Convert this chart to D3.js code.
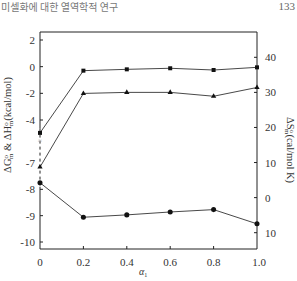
<!DOCTYPE html>
<html>
<head>
<meta charset="utf-8">
<script src="https://cdn.jsdelivr.net/npm/d3@7"></script>
<style>
  body { margin: 0; background: #fff; }
  text { font-family: "Liberation Serif", "DejaVu Serif", serif; fill: #333; }
</style>
</head>
<body>
<div id="wrapper"></div>
<script>
// data
const alpha = [0, 0.2, 0.4, 0.6, 0.8, 1.0]
const dH = [-4.9, -0.3, -0.2, -0.12, -0.25, -0.05]     // squares, left axis
const dS = [8.7, 29.7, 30, 30, 28.9, 31.4]              // triangles, right axis
const dG = [-7.75, -9.06, -8.97, -8.86, -8.77, -9.31]  // circles, left axis

const xTicks = [0, 0.2, 0.4, 0.6, 0.8, 1.0]
const xTickLabels = ["0", "0.2", "0.4", "0.6", "0.8", "1.0"]
const leftTicks = [2, 0, -2, -4, -7, -8, -9, -10]
const leftTickLabels = ["2", "0", "-2", "-4", "-7", "-8", "-9", "-10"]
const rightTicks = [40, 30, 20, 10, 0, -10]
const rightTickLabels = ["40", "30", "20", "10", "0", "10"]

let dimensions = {
    width: 297,
    height: 281,
    left: 40,
    right: 257,
    top: 32,
    bottom: 249,
}

const svg = d3.select("#wrapper")
    .append("svg")
        .attr("width", dimensions.width)
        .attr("height", dimensions.height)

// header of the scanned page
svg.append("text")
    .attr("x", 1).attr("y", 11)
    .style("font-family", "'Noto Sans CJK KR'")
    .style("font-size", "10px")
    .style("fill", "#777")
    .text("미셀화에 대한 열역학적 연구")
svg.append("text")
    .attr("x", 295).attr("y", 10)
    .attr("text-anchor", "end")
    .style("font-size", "11px")
    .style("fill", "#666")
    .text("133")

const xScale = d3.scaleLinear()
    .domain([0, 1])
    .range([dimensions.left, dimensions.right])

// broken left axis: piecewise scale
const yLeft = d3.scaleLinear()
    .domain([-10, -7, -4, 2])
    .range([242, 163, 120, 40])

const yRight = d3.scaleLinear()
    .domain([-10, 40])
    .range([232.7, 57.3])

const ink = "#222"

// frame: top and right/bottom lines
svg.append("line")
    .attr("x1", dimensions.left).attr("x2", dimensions.right)
    .attr("y1", dimensions.top).attr("y2", dimensions.top)
    .attr("stroke", ink).attr("stroke-width", 1)
svg.append("line")
    .attr("x1", dimensions.left).attr("x2", dimensions.right)
    .attr("y1", dimensions.bottom).attr("y2", dimensions.bottom)
    .attr("stroke", ink).attr("stroke-width", 1)
svg.append("line")
    .attr("x1", dimensions.right).attr("x2", dimensions.right)
    .attr("y1", dimensions.top).attr("y2", dimensions.bottom)
    .attr("stroke", ink).attr("stroke-width", 1)

// left axis line with a dashed break
svg.append("line")
    .attr("x1", dimensions.left).attr("x2", dimensions.left)
    .attr("y1", dimensions.top).attr("y2", yLeft(-4.6))
    .attr("stroke", ink)
svg.append("line")
    .attr("x1", dimensions.left).attr("x2", dimensions.left)
    .attr("y1", yLeft(-4.6)).attr("y2", yLeft(-7.9))
    .attr("stroke", ink)
    .attr("stroke-dasharray", "3,3")
svg.append("line")
    .attr("x1", dimensions.left).attr("x2", dimensions.left)
    .attr("y1", yLeft(-7.9)).attr("y2", dimensions.bottom)
    .attr("stroke", ink)
svg.append("text")
    .attr("x", dimensions.left).attr("y", yLeft(-5.6))
    .attr("text-anchor", "middle")
    .style("font-size", "7px")
    .style("fill", "#aaa")
    .text("≈")

// left ticks
const leftAxis = svg.append("g")
leftAxis.selectAll("line")
    .data(leftTicks.filter(d => d !== -7))
    .enter().append("line")
        .attr("x1", dimensions.left).attr("x2", dimensions.left + 3)
        .attr("y1", d => yLeft(d)).attr("y2", d => yLeft(d))
        .attr("stroke", ink)
leftAxis.selectAll("text")
    .data(leftTicks)
    .enter().append("text")
        .attr("x", 35)
        .attr("y", d => yLeft(d) + 4)
        .attr("text-anchor", "end")
        .style("font-size", "11px")
        .text((d, i) => leftTickLabels[i])

// right ticks
const rightAxis = svg.append("g")
rightAxis.selectAll("line")
    .data(rightTicks)
    .enter().append("line")
        .attr("x1", dimensions.right - 3).attr("x2", dimensions.right)
        .attr("y1", d => yRight(d)).attr("y2", d => yRight(d))
        .attr("stroke", ink)
rightAxis.selectAll("text")
    .data(rightTicks)
    .enter().append("text")
        .attr("x", 265)
        .attr("y", d => yRight(d) + 4)
        .style("font-size", "11px")
        .text((d, i) => rightTickLabels[i])

// bottom ticks
const bottomAxis = svg.append("g")
bottomAxis.selectAll("line")
    .data(xTicks.slice(1, -1))
    .enter().append("line")
        .attr("x1", d => xScale(d)).attr("x2", d => xScale(d))
        .attr("y1", dimensions.bottom).attr("y2", dimensions.bottom - 3)
        .attr("stroke", ink)
bottomAxis.selectAll("text")
    .data(xTicks)
    .enter().append("text")
        .attr("x", d => xScale(d) + (d === 1 ? 2 : 0))
        .attr("y", 266)
        .attr("text-anchor", "middle")
        .style("font-size", "11px")
        .text((d, i) => xTickLabels[i])

// axis titles
const xTitle = svg.append("text")
    .attr("x", 143).attr("y", 275)
    .attr("text-anchor", "middle")
    .style("font-size", "10px")
    .style("font-style", "italic")
xTitle.append("tspan").text("α")
xTitle.append("tspan").attr("dy", 2).style("font-size", "6px").style("font-style", "normal").text("1")

const leftTitle = svg.append("text")
    .attr("transform", "translate(11,125) rotate(-90)")
    .attr("text-anchor", "middle")
    .style("font-size", "10.5px")
leftTitle.append("tspan").text("ΔG")
leftTitle.append("tspan").attr("dy", -3).style("font-size", "7px").text("o")
leftTitle.append("tspan").attr("dx", -4).attr("dy", 5).style("font-size", "7px").text("m")
leftTitle.append("tspan").attr("dy", -2).text(" & ΔH")
leftTitle.append("tspan").attr("dy", -3).style("font-size", "7px").text("o")
leftTitle.append("tspan").attr("dx", -4).attr("dy", 5).style("font-size", "7px").text("m")
leftTitle.append("tspan").attr("dy", -2).text("(kcal/mol)")

const rightTitle = svg.append("text")
    .attr("transform", "translate(287,150) rotate(90)")
    .attr("text-anchor", "middle")
    .style("font-size", "10.5px")
rightTitle.append("tspan").text("ΔS")
rightTitle.append("tspan").attr("dy", -3).style("font-size", "7px").text("o")
rightTitle.append("tspan").attr("dx", -4).attr("dy", 5).style("font-size", "7px").text("m")
rightTitle.append("tspan").attr("dy", -2).text("(cal/mol K)")

// series lines
const series = [
    { values: dH, y: yLeft, shape: "square" },
    { values: dS, y: yRight, shape: "triangle" },
    { values: dG, y: yLeft, shape: "circle" },
]

series.forEach(s => {
    const lineGenerator = d3.line()
        .x((d, i) => xScale(alpha[i]))
        .y(d => s.y(d))
    svg.append("path")
        .attr("d", lineGenerator(s.values))
        .attr("fill", "none")
        .attr("stroke", "#333")
        .attr("stroke-width", 0.9)

    const symbolType = s.shape === "square" ? d3.symbolSquare
        : s.shape === "triangle" ? d3.symbolTriangle : d3.symbolCircle
    const size = s.shape === "square" ? 16 : s.shape === "triangle" ? 12 : 20
    svg.append("g").selectAll("path")
        .data(s.values)
        .enter().append("path")
            .attr("d", d3.symbol().type(symbolType).size(size))
            .attr("transform", (d, i) => `translate(${xScale(alpha[i])},${s.y(d)})`)
            .attr("fill", "#111")
})
</script>
</body>
</html>
